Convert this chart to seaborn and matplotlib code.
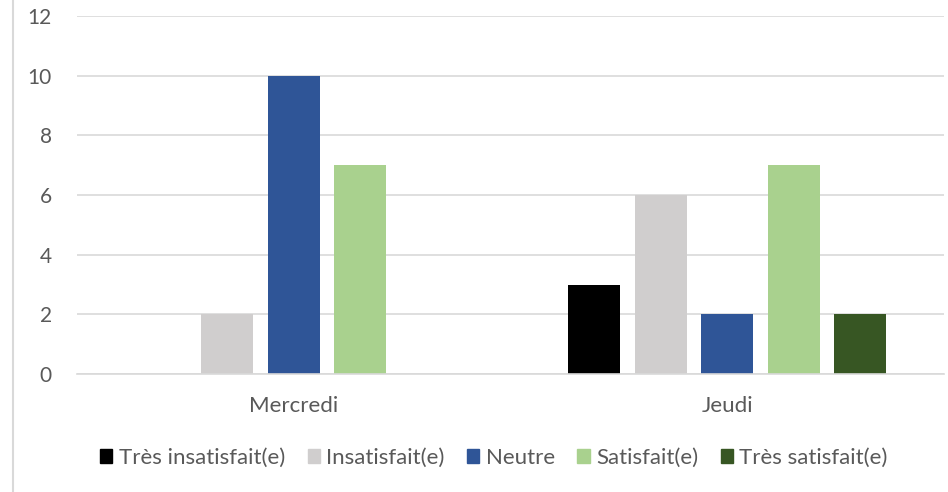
import numpy as np
import pandas as pd
import matplotlib.pyplot as plt
import seaborn as sns
from matplotlib.lines import Line2D

# ---- data ----
days = ["Mercredi", "Jeudi"]
levels = ["Très insatisfait(e)", "Insatisfait(e)", "Neutre", "Satisfait(e)", "Très satisfait(e)"]
mercredi = [0, 2, 10, 7, 0]
jeudi = [3, 6, 2, 7, 2]
colors = ["#000000", "#D0CECE", "#2F5597", "#A9D18E", "#375623"]

df = pd.DataFrame({
    "jour": [d for d in days for _ in levels],
    "niveau": levels * len(days),
    "n": mercredi + jeudi,
})

sns.set_theme(style="white")
plt.rcParams["font.family"] = ["Lato", "DejaVu Sans"]
txt = "#595959"
grid = "#D9D9D9"

fig = plt.figure(figsize=(9.48, 4.92), dpi=100)
ax = fig.add_axes([77 / 948, 1 - 374 / 492, 867 / 948, 358 / 492])

sns.barplot(data=df, x="jour", y="n", hue="niveau", order=days, hue_order=levels,
            palette=colors, width=0.767, gap=0.22, saturation=1, linewidth=0,
            ax=ax, legend=False)

ax.set_ylim(0, 12)
ax.set_yticks(np.arange(0, 13, 2))
ax.set_xlim(-0.5, 1.5)
ax.yaxis.grid(True, color=grid, lw=1.2)
ax.set_axisbelow(True)
for s in ["top", "right", "left"]:
    ax.spines[s].set_visible(False)
ax.spines["bottom"].set_color(grid)
ax.spines["bottom"].set_linewidth(1.2)
ax.tick_params(axis="y", length=0, pad=18, labelsize=15, labelcolor=txt)
ax.tick_params(axis="x", length=0, pad=16, labelsize=16, labelcolor=txt)
ax.set_xlabel("")
ax.set_ylabel("")

# legend
handles = [plt.Rectangle((0, 0), 1, 1, color=c) for c in colors]
fig.legend(handles, levels, loc="center", bbox_to_anchor=(494 / 948, 1 - 458 / 492), ncol=5,
           frameon=False, fontsize=16, labelcolor=txt, handlelength=0.55, handleheight=0.55,
           handletextpad=0.3, columnspacing=1.0)

# chart area border on the left
fig.add_artist(Line2D([13 / 948, 13 / 948], [0, 1], color=grid, lw=1.5))

fig.savefig("out.png", dpi=100)
plt.close(fig)
